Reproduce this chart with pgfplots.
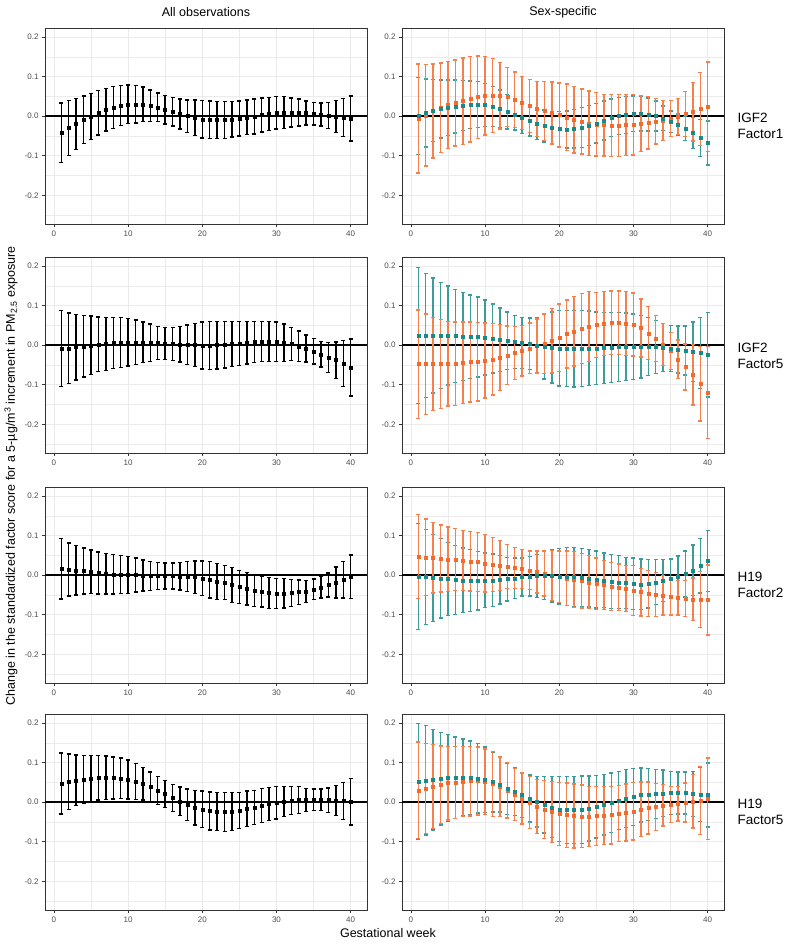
\documentclass[border=0pt]{standalone}
\usepackage{fontspec}
\setmainfont{Liberation Sans}
\usepackage{pgfplots}
\usepackage{pgfplotstable}
\pgfplotsset{compat=1.18}
\definecolor{tealc}{RGB}{24,139,135}
\definecolor{orangec}{RGB}{244,106,45}
\definecolor{grey92}{RGB}{235,235,235}
\definecolor{grey20}{RGB}{51,51,51}
\definecolor{grey30}{RGB}{77,77,77}

% row 1 left: IGF2 Factor1, all
\pgfplotstableread{
x m e
1 -0.042 0.075
2 -0.030 0.069
3 -0.020 0.065
4 -0.009 0.060
5 -0.001 0.058
6 0.008 0.056
7 0.016 0.054
8 0.022 0.053
9 0.027 0.051
10 0.030 0.049
11 0.030 0.047
12 0.030 0.043
13 0.026 0.040
14 0.022 0.036
15 0.016 0.036
16 0.011 0.036
17 0.005 0.038
18 0.000 0.041
19 -0.004 0.045
20 -0.008 0.047
21 -0.009 0.047
22 -0.010 0.047
23 -0.010 0.047
24 -0.008 0.045
25 -0.006 0.044
26 -0.003 0.044
27 -0.001 0.044
28 0.003 0.043
29 0.005 0.042
30 0.008 0.041
31 0.009 0.040
32 0.009 0.037
33 0.009 0.034
34 0.008 0.030
35 0.006 0.028
36 0.004 0.029
37 0.002 0.033
38 -0.001 0.041
39 -0.003 0.048
40 -0.006 0.057
}\tA
% row 2 left: IGF2 Factor5
\pgfplotstableread{
x m e
1 -0.009 0.096
2 -0.008 0.089
3 -0.005 0.083
4 -0.003 0.078
5 -0.001 0.074
6 0.002 0.069
7 0.003 0.067
8 0.005 0.064
9 0.006 0.063
10 0.007 0.060
11 0.007 0.056
12 0.007 0.051
13 0.006 0.047
14 0.005 0.042
15 0.004 0.041
16 0.003 0.042
17 0.002 0.045
18 0.001 0.050
19 0.000 0.054
20 -0.001 0.059
21 -0.001 0.060
22 0.000 0.060
23 0.001 0.059
24 0.003 0.057
25 0.004 0.056
26 0.006 0.054
27 0.008 0.052
28 0.009 0.051
29 0.009 0.050
30 0.008 0.050
31 0.006 0.047
32 0.003 0.042
33 -0.003 0.039
34 -0.009 0.034
35 -0.016 0.032
36 -0.023 0.032
37 -0.031 0.038
38 -0.038 0.046
39 -0.047 0.058
40 -0.057 0.072
}\tB
% row 3 left: H19 Factor2
\pgfplotstableread{
x m e
1 0.016 0.076
2 0.014 0.067
3 0.012 0.062
4 0.010 0.058
5 0.008 0.055
6 0.005 0.053
7 0.003 0.051
8 0.002 0.050
9 0.001 0.048
10 0.000 0.047
11 0.000 0.043
12 -0.001 0.039
13 -0.002 0.037
14 -0.002 0.034
15 -0.002 0.033
16 -0.002 0.033
17 -0.003 0.035
18 -0.003 0.038
19 -0.005 0.041
20 -0.008 0.044
21 -0.012 0.046
22 -0.016 0.046
23 -0.019 0.043
24 -0.025 0.044
25 -0.030 0.041
26 -0.035 0.041
27 -0.039 0.040
28 -0.042 0.039
29 -0.045 0.039
30 -0.046 0.038
31 -0.046 0.037
32 -0.045 0.034
33 -0.043 0.031
34 -0.041 0.028
35 -0.036 0.026
36 -0.031 0.027
37 -0.025 0.030
38 -0.019 0.039
39 -0.012 0.046
40 -0.004 0.055
}\tC
% row 4 left: H19 Factor5
\pgfplotstableread{
x m e
1 0.047 0.077
2 0.051 0.070
3 0.055 0.064
4 0.057 0.061
5 0.059 0.058
6 0.061 0.056
7 0.061 0.055
8 0.061 0.053
9 0.060 0.051
10 0.057 0.049
11 0.052 0.046
12 0.046 0.041
13 0.039 0.037
14 0.029 0.035
15 0.020 0.034
16 0.011 0.034
17 0.002 0.036
18 -0.007 0.040
19 -0.014 0.044
20 -0.018 0.046
21 -0.022 0.048
22 -0.024 0.048
23 -0.025 0.049
24 -0.024 0.048
25 -0.021 0.045
26 -0.017 0.045
27 -0.013 0.043
28 -0.009 0.043
29 -0.005 0.042
30 -0.002 0.041
31 0.002 0.038
32 0.004 0.036
33 0.005 0.034
34 0.006 0.029
35 0.006 0.027
36 0.006 0.027
37 0.005 0.031
38 0.004 0.038
39 0.003 0.047
40 0.001 0.059
}\tD
% row 1 right
\pgfplotstableread{
x tm te om oe
1 0.000 0.097 -0.006 0.138
2 0.008 0.086 0.002 0.128
3 0.014 0.078 0.013 0.119
4 0.018 0.073 0.021 0.113
5 0.021 0.070 0.028 0.110
6 0.024 0.067 0.033 0.109
7 0.027 0.063 0.038 0.109
8 0.029 0.060 0.043 0.108
9 0.029 0.058 0.048 0.104
10 0.028 0.054 0.051 0.099
11 0.024 0.051 0.052 0.093
12 0.018 0.048 0.051 0.084
13 0.011 0.044 0.048 0.075
14 0.004 0.039 0.041 0.070
15 -0.004 0.040 0.033 0.067
16 -0.011 0.039 0.025 0.067
17 -0.019 0.040 0.018 0.070
18 -0.025 0.040 0.013 0.074
19 -0.030 0.042 0.008 0.078
20 -0.033 0.045 0.003 0.081
21 -0.034 0.047 -0.003 0.084
22 -0.032 0.049 -0.009 0.084
23 -0.029 0.051 -0.014 0.082
24 -0.024 0.051 -0.018 0.081
25 -0.018 0.050 -0.021 0.080
26 -0.011 0.049 -0.023 0.078
27 -0.004 0.047 -0.024 0.078
28 0.000 0.047 -0.024 0.078
29 0.003 0.047 -0.023 0.077
30 0.006 0.045 -0.022 0.076
31 0.006 0.044 -0.019 0.071
32 0.004 0.042 -0.017 0.066
33 0.000 0.038 -0.013 0.057
34 -0.006 0.031 -0.011 0.050
35 -0.014 0.027 -0.006 0.045
36 -0.022 0.027 -0.001 0.046
37 -0.031 0.030 0.005 0.057
38 -0.043 0.039 0.011 0.074
39 -0.055 0.047 0.018 0.092
40 -0.068 0.056 0.024 0.113
}\tE
% row 2 right
\pgfplotstableread{
x tm te om oe
1 0.024 0.172 -0.048 0.137
2 0.024 0.157 -0.048 0.127
3 0.024 0.145 -0.048 0.117
4 0.024 0.134 -0.048 0.112
5 0.024 0.125 -0.047 0.107
6 0.023 0.117 -0.047 0.105
7 0.022 0.111 -0.045 0.103
8 0.021 0.106 -0.043 0.101
9 0.020 0.101 -0.042 0.099
10 0.019 0.095 -0.039 0.095
11 0.017 0.087 -0.036 0.090
12 0.014 0.080 -0.031 0.083
13 0.011 0.073 -0.026 0.074
14 0.008 0.067 -0.020 0.067
15 0.005 0.064 -0.014 0.064
16 0.003 0.065 -0.008 0.064
17 -0.001 0.070 -0.002 0.068
18 -0.003 0.083 0.004 0.075
19 -0.006 0.090 0.011 0.081
20 -0.008 0.095 0.019 0.085
21 -0.008 0.096 0.028 0.086
22 -0.009 0.097 0.035 0.088
23 -0.009 0.096 0.042 0.088
24 -0.008 0.094 0.047 0.088
25 -0.008 0.092 0.051 0.082
26 -0.007 0.090 0.055 0.081
27 -0.006 0.088 0.057 0.080
28 -0.005 0.087 0.057 0.080
29 -0.004 0.085 0.055 0.081
30 -0.004 0.083 0.052 0.080
31 -0.004 0.079 0.043 0.073
32 -0.004 0.073 0.030 0.067
33 -0.005 0.067 0.017 0.058
34 -0.006 0.060 0.001 0.053
35 -0.008 0.058 -0.015 0.047
36 -0.011 0.059 -0.036 0.049
37 -0.014 0.062 -0.055 0.058
38 -0.017 0.075 -0.075 0.076
39 -0.020 0.090 -0.098 0.094
40 -0.024 0.107 -0.120 0.116
}\tF
% row 3 right
\pgfplotstableread{
x tm te om oe
1 -0.004 0.134 0.047 0.106
2 -0.005 0.120 0.045 0.097
3 -0.007 0.110 0.044 0.089
4 -0.008 0.100 0.042 0.085
5 -0.010 0.092 0.040 0.081
6 -0.012 0.087 0.039 0.078
7 -0.013 0.081 0.037 0.076
8 -0.014 0.078 0.035 0.075
9 -0.014 0.074 0.033 0.074
10 -0.013 0.069 0.030 0.073
11 -0.013 0.066 0.027 0.068
12 -0.012 0.061 0.024 0.063
13 -0.010 0.055 0.022 0.056
14 -0.008 0.051 0.018 0.052
15 -0.005 0.048 0.015 0.049
16 -0.003 0.050 0.012 0.049
17 -0.002 0.054 0.008 0.053
18 -0.001 0.060 0.004 0.057
19 -0.002 0.066 -0.001 0.063
20 -0.003 0.070 -0.004 0.065
21 -0.004 0.073 -0.008 0.069
22 -0.005 0.074 -0.011 0.071
23 -0.007 0.074 -0.014 0.069
24 -0.008 0.073 -0.018 0.067
25 -0.011 0.072 -0.022 0.065
26 -0.013 0.069 -0.025 0.062
27 -0.016 0.068 -0.029 0.061
28 -0.018 0.067 -0.031 0.059
29 -0.020 0.065 -0.034 0.058
30 -0.022 0.065 -0.039 0.063
31 -0.023 0.064 -0.043 0.060
32 -0.022 0.061 -0.046 0.058
33 -0.018 0.057 -0.049 0.055
34 -0.014 0.053 -0.051 0.050
35 -0.009 0.050 -0.055 0.046
36 -0.004 0.052 -0.057 0.044
37 0.003 0.058 -0.059 0.045
38 0.012 0.064 -0.061 0.054
39 0.024 0.069 -0.062 0.071
40 0.036 0.077 -0.063 0.088
}\tG
% row 4 right
\pgfplotstableread{
x tm te om oe
1 0.052 0.147 0.030 0.122
2 0.055 0.138 0.034 0.114
3 0.057 0.127 0.039 0.106
4 0.059 0.117 0.044 0.098
5 0.061 0.109 0.048 0.093
6 0.061 0.103 0.050 0.091
7 0.062 0.097 0.052 0.089
8 0.061 0.093 0.053 0.088
9 0.060 0.088 0.053 0.086
10 0.056 0.083 0.051 0.083
11 0.051 0.076 0.046 0.082
12 0.044 0.069 0.039 0.075
13 0.034 0.065 0.030 0.070
14 0.026 0.060 0.019 0.066
15 0.018 0.057 0.009 0.064
16 0.009 0.059 -0.001 0.065
17 0.001 0.064 -0.011 0.068
18 -0.007 0.071 -0.019 0.073
19 -0.013 0.077 -0.025 0.077
20 -0.018 0.082 -0.030 0.080
21 -0.020 0.085 -0.033 0.081
22 -0.020 0.085 -0.035 0.081
23 -0.019 0.085 -0.036 0.079
24 -0.016 0.082 -0.036 0.076
25 -0.012 0.079 -0.035 0.074
26 -0.007 0.076 -0.034 0.073
27 -0.002 0.075 -0.033 0.073
28 0.004 0.073 -0.029 0.071
29 0.009 0.073 -0.026 0.072
30 0.013 0.072 -0.023 0.073
31 0.018 0.068 -0.018 0.069
32 0.019 0.066 -0.015 0.066
33 0.021 0.062 -0.012 0.059
34 0.022 0.059 -0.008 0.052
35 0.023 0.054 -0.006 0.046
36 0.023 0.053 -0.004 0.044
37 0.023 0.053 -0.001 0.049
38 0.021 0.057 0.002 0.067
39 0.019 0.068 0.004 0.086
40 0.018 0.081 0.008 0.103
}\tH

\pgfplotsset{
  panel/.style={
    scale only axis, width=322pt, height=196pt, anchor=south west,
    xmin=-1.2, xmax=42.2, ymin=-0.2725, ymax=0.2225,
    xtick={0,10,20,30,40}, ytick={-0.2,-0.1,0,0.1,0.2},
    minor xtick={5,15,25,35}, minor ytick={-0.25,-0.15,-0.05,0.05,0.15},
    xmajorgrids, ymajorgrids, xminorgrids, yminorgrids,
    major grid style={draw=grey92, line width=0.6pt},
    minor grid style={draw=grey92, line width=0.3pt},
    axis line style={draw=grey20, line width=0.6pt},
    tick style={draw=grey20, line width=0.6pt},
    tick align=outside, major tick length=3pt, minor tick length=0pt,
    xtick pos=left, ytick pos=left,
    ticklabel style={font=\fontsize{8}{9}\selectfont, text=grey30},
    yticklabel style={/pgf/number format/.cd, fixed, fixed zerofill, precision=1},
    /pgf/number format/assume math mode=true,
  },
}
% error bars with points (points drawn by the same plot)
\newcommand{\ebars}[5]{% table, ycol, ecol, bar colour, point colour
  \addplot[only marks, mark=square*, mark size=1.5pt,
    mark options={draw=#5, fill=#5},
    error bars/.cd, y dir=both, y explicit, error mark=|,
    error bar style={draw=#4, line width=1.4pt},
    error mark options={draw=#4, fill=#4, line width=1.4pt, mark size=2pt}]
    table[x=x, y=#2, y error=#3]{#1};}
\newcommand{\pts}[3]{%
  \addplot[only marks, mark=square*, mark size=1.5pt, mark options={draw=#3, fill=#3}]
    table[x=x, y=#2]{#1};}
\newcommand{\zeroline}{\addplot[black, line width=1.2pt] coordinates {(-1.2,0) (42.2,0)};}

\newcommand{\leftpanel}[2]{%
  \begin{axis}[panel, at={(45pt,#1)}]
    \zeroline
    \ebars{#2}{m}{e}{black}{black}
  \end{axis}}
\newcommand{\rightpanel}[2]{%
  \begin{axis}[panel, at={(402pt,#1)}]
    \zeroline
    \ebars{#2}{tm}{te}{tealc!85!white}{tealc}
    \ebars{#2}{om}{oe}{orangec!85!white}{orangec}
    \pts{#2}{tm}{tealc}
  \end{axis}}

\begin{document}
\begin{tikzpicture}
\useasboundingbox (0,0) rectangle (787pt,946pt);
\leftpanel{722pt}{\tA}
\leftpanel{493pt}{\tB}
\leftpanel{263pt}{\tC}
\leftpanel{36pt}{\tD}
\rightpanel{722pt}{\tE}
\rightpanel{493pt}{\tF}
\rightpanel{263pt}{\tG}
\rightpanel{36pt}{\tH}
\node[font=\fontsize{12.5}{14}\selectfont, text=black] at (206pt,934pt) {All observations};
\node[font=\fontsize{12.5}{14}\selectfont, text=black] at (563pt,934pt) {Sex-specific};
\node[font=\fontsize{13.5}{16}\selectfont, align=left, anchor=west] at (734pt,820pt) {IGF2\\Factor1};
\node[font=\fontsize{13.5}{16}\selectfont, align=left, anchor=west] at (734pt,590pt) {IGF2\\Factor5};
\node[font=\fontsize{13.5}{16}\selectfont, align=left, anchor=west] at (734pt,361pt) {H19\\Factor2};
\node[font=\fontsize{13.5}{16}\selectfont, align=left, anchor=west] at (734pt,134pt) {H19\\Factor5};
\node[font=\fontsize{12.5}{14}\selectfont] at (388pt,13pt) {Gestational week};
\node[font=\fontsize{12.5}{14}\selectfont, rotate=90] at (11pt,470pt) {Change in the standardized factor score for a 5-µg/m\textsuperscript{3} increment in PM\textsubscript{2.5} exposure};
\end{tikzpicture}
\end{document}
